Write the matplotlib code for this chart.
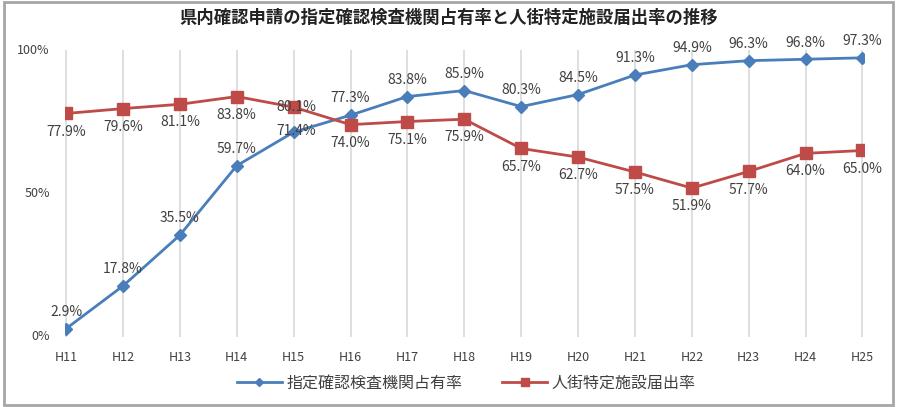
import matplotlib
matplotlib.use('Agg')
import matplotlib.pyplot as plt
import matplotlib.ticker as mticker
from matplotlib.patches import Rectangle
import numpy as np

plt.rcParams['font.family'] = ['Noto Sans CJK JP', 'DejaVu Sans']

years = ['H11', 'H12', 'H13', 'H14', 'H15', 'H16', 'H17', 'H18',
         'H19', 'H20', 'H21', 'H22', 'H23', 'H24', 'H25']
share_rate = [2.9, 17.8, 35.5, 59.7, 71.4, 77.3, 83.8, 85.9,
              80.3, 84.5, 91.3, 94.9, 96.3, 96.8, 97.3]
notify_rate = [77.9, 79.6, 81.1, 83.8, 80.1, 74.0, 75.1, 75.9,
               65.7, 62.7, 57.5, 51.9, 57.7, 64.0, 65.0]

TITLE = '県内確認申請の指定確認検査機関占有率と人街特定施設届出率の推移'
LABEL_SHARE = '指定確認検査機関占有率'
LABEL_NOTIFY = '人街特定施設届出率'

BLUE = '#4a7ebb'
RED = '#be4b48'
TEXT = '#404040'

fig = plt.figure(figsize=(8.97, 4.07), dpi=100)
fig.patch.set_facecolor('white')
fig.patches.append(Rectangle((0.004, 0.006), 0.992, 0.988, transform=fig.transFigure,
                             fill=False, edgecolor='#a6a6a6', linewidth=2))

# plot area: H11 at ~69px, H25 at ~862px; 0% at ~337px, 100% at ~50px
ax = fig.add_axes([0.0724, 0.172, 0.8904, 0.705])
x = np.arange(len(years))

ax.plot(x, share_rate, color=BLUE, linewidth=2, marker='D', markersize=6,
        label=LABEL_SHARE, zorder=3)
ax.plot(x, notify_rate, color=RED, linewidth=2, marker='s', markersize=8,
        label=LABEL_NOTIFY, zorder=3)

for i, v in enumerate(share_rate):
    if i == 4:
        ax.annotate(f'{v:.1f}%', (i, v), xytext=(2, 1), textcoords='offset points',
                    ha='center', va='center', fontsize=10, color=TEXT)
        continue
    ax.annotate(f'{v:.1f}%', (i, v), xytext=(0, 7), textcoords='offset points',
                ha='center', va='bottom', fontsize=10, color=TEXT)
for i, v in enumerate(notify_rate):
    if i == 4:
        ax.annotate(f'{v:.1f}%', (i, v), xytext=(2, 0), textcoords='offset points',
                    ha='center', va='center', fontsize=10, color=TEXT)
        continue
    ax.annotate(f'{v:.1f}%', (i, v), xytext=(0, -8), textcoords='offset points',
                ha='center', va='top', fontsize=10, color=TEXT)

ax.set_xlim(-0.02, 14.02)
ax.set_ylim(0, 100)
ax.set_xticks(x)
ax.set_xticklabels(years)
ax.set_yticks([0, 50, 100])
ax.yaxis.set_major_formatter(mticker.FuncFormatter(lambda v, _: f'{v:.0f}%'))
ax.tick_params(axis='both', length=0, labelsize=9, colors=TEXT)
ax.tick_params(axis='x', pad=10)
ax.tick_params(axis='y', pad=11)
for lbl in ax.get_yticklabels():
    lbl.set_verticalalignment('center')
for s in ax.spines.values():
    s.set_visible(False)
ax.grid(True, axis='x', color='#d9d9d9', linewidth=1.2)
ax.set_axisbelow(True)

fig.text(0.5, 0.955, TITLE, ha='center', va='center', fontsize=12.5,
         fontweight='bold', color='#222222')

fig.legend(loc='center', bbox_to_anchor=(0.52, 0.058), ncol=2, frameon=False,
           fontsize=11.5, labelcolor=TEXT, handlelength=2.8, markerscale=0.75,
           handletextpad=0.3, columnspacing=2.5)

fig.savefig('out.png', dpi=100)
